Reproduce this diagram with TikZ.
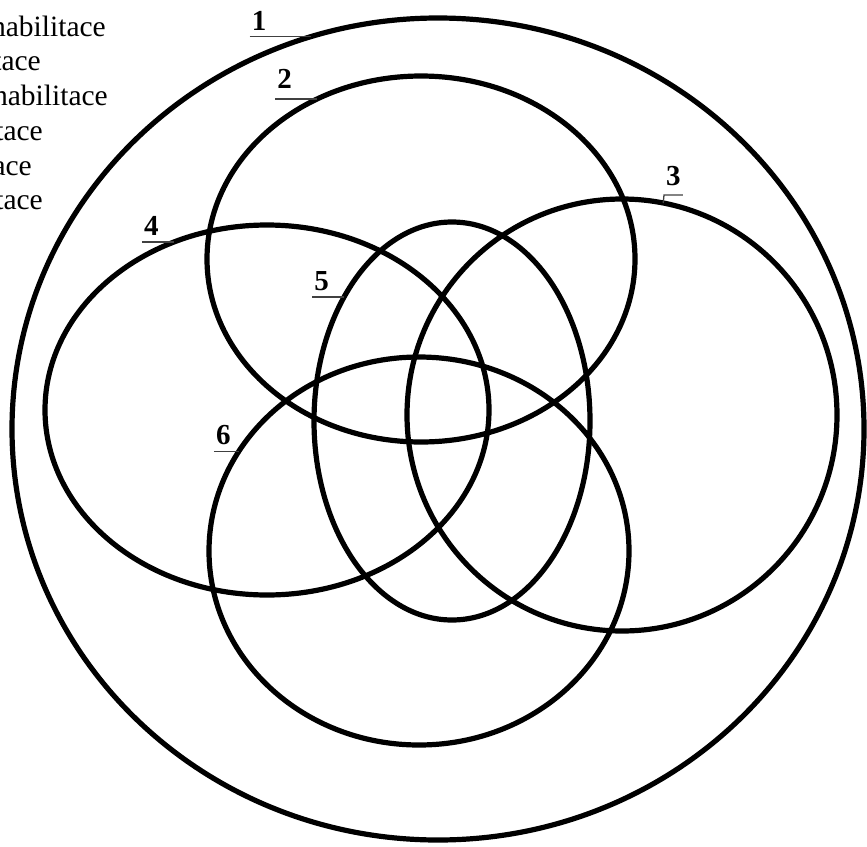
\documentclass[tikz,border=0pt]{standalone}
\usepackage{fontspec}
\setmainfont{Liberation Serif}
\usetikzlibrary{positioning,shapes.geometric}
\tikzset{
  ring/.style ={draw=black, line width=5.2pt, ellipse, inner sep=0pt, outer sep=0pt},
  num/.style  ={font=\fontsize{29}{32}\selectfont\bfseries, inner xsep=2pt, inner ysep=6pt, anchor=south west},
  lead/.style ={draw=black!75, line width=1.3pt},
  leg/.style  ={font=\fontsize{29.5}{32}\selectfont, inner sep=0pt, anchor=base east},
}

\begin{document}
\begin{tikzpicture}[x=1pt,y=-1pt]
  \useasboundingbox (0,0) rectangle (867,846);

  % legend, cut at the left edge
  \node[leg] (leg1) at (106,36)  {habilitace};
  \node[leg] (leg2) at (41,70)   {tace};
  \node[leg] (leg3) at (108,105) {habilitace};
  \node[leg] (leg4) at (43,140)  {tace};
  \node[leg] (leg5) at (32,175)  {ace};
  \node[leg] (leg6) at (43,209)  {tace};

  % sets
  \node[ring,minimum width=852pt,minimum height=822pt] (ring1) at (438,429) {};
  \node[ring,minimum width=428pt,minimum height=366pt] (ring2) at (421,259) {};
  \node[ring,minimum width=430pt,minimum height=432pt] (ring3) at (622,415) {};
  \node[ring,minimum width=444pt,minimum height=370pt] (ring4) at (267,410) {};
  \node[ring,minimum width=276pt,minimum height=398pt] (ring5) at (452,421) {};
  \node[ring,minimum width=420pt,minimum height=388pt] (ring6) at (419,551) {};

  % numbers
  \node[num] (n1) at ([xshift=-61pt]ring1.108.1) {1};
  \node[num,inner ysep=10pt] (n2) at ([xshift=-42pt]ring2.123) {2};
  \node[num,inner ysep=9pt] (n3) at (664,195) {3};
  \node[num] (n4) at ([xshift=-32pt]ring4.119) {4};
  \node[num] (n5) at ([xshift=-32pt]ring5.131.1) {5};
  \node[num] (n6) at ([xshift=-25pt]ring6.151.6) {6};

  \draw[lead] (n1.south west) -- (ring1.108.1);
  \draw[lead] (n2.south west) -- (ring2.123);
  \draw[lead] (ring3.79.6) -- (n3.south west) -- (n3.south east);
  \draw[lead] (n4.south west) -- (ring4.119);
  \draw[lead] (n5.south west) -- (ring5.131.1);
  \draw[lead] (n6.south west) -- (ring6.151.6);
\end{tikzpicture}
\end{document}
